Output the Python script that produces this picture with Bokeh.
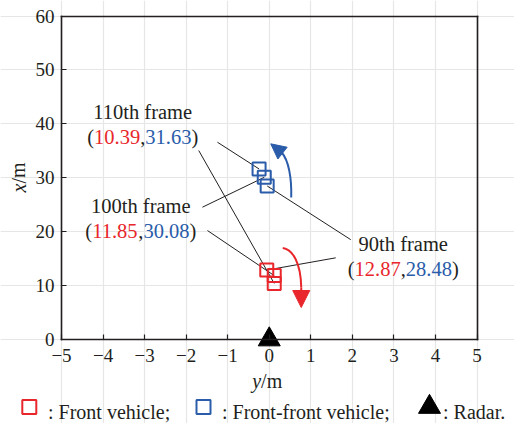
from bokeh.plotting import figure
from bokeh.models import (Range1d, Label, Arrow, NormalHead, FixedTicker, Grid,
                          LinearAxis, CustomJSTickFormatter)
from bokeh.core.properties import value
from bokeh.embed import file_html
from bokeh.resources import INLINE

# ---- data -------------------------------------------------------------
frames = [90, 100, 110]
# front vehicle: longitudinal distance x and lateral offset y (m)
front_x = [12.87, 11.85, 10.39]
front_y = [-0.06, 0.12, 0.12]
# front-front vehicle
ff_x = [28.48, 30.08, 31.63]
ff_y = [-0.05, -0.12, -0.245]
# radar position
radar_x = [0.0]
radar_y = [0.0]

y_ticks = [-5, -4, -3, -2, -1, 0, 1, 2, 3, 4, 5]
x_ticks = [0, 10, 20, 30, 40, 50, 60]
y_lim = (-5, 5)
x_lim = (0, 60)

# annotation anchors (data units) for the 90th, 100th, 110th frame labels
label_cx = [3.225, -3.09, -3.045]
title_base = [17.75, 24.67, 42.15]
value_base = [13.11, 20.21, 37.56]
# leader line start points
lead_front_y = [1.60, -1.487, -1.697]
lead_front_x = [15.15, 20.21, 35.05]
lead_ff_y = [1.961, -1.608, -1.247]
lead_ff_x = [18.52, 24.54, 36.59]

# curved motion arrows: cubic bezier (start, ctrl1, ctrl2, end) then head tip
blue_curve = dict(y0=[0.529], x0=[26.34], cy0=[0.542], cx0=[29.86],
                  cy1=[0.469], cx1=[33.20], y1=[0.301], x1=[34.68])
blue_tip = (0.036, 36.29)
red_curve = dict(y0=[0.325], x0=[16.97], cy0=[0.566], cx0=[16.69],
                 cy1=[0.758], cx1=[14.28], y1=[0.770], x1=[9.64])
red_tip = (0.770, 5.93)

# ---- canvas geometry ---------------------------------------------------
W, H = 514, 423
BOX_L, BOX_R, BOX_T, BOX_B = 61.0, 476.5, 15.5, 339.0   # data box in pixels
sx = (BOX_R - BOX_L) / (y_lim[1] - y_lim[0])
sy = (BOX_B - BOX_T) / (x_lim[1] - x_lim[0])


def px_x(px):
    return y_lim[0] + (px - BOX_L) / sx


def px_y(py):
    return x_lim[0] + (BOX_B - py) / sy


RED = "#e8262b"
BLUE = "#2a5caa"
INK = "#231f20"
FONT = "Liberation Serif"
FS = 20.5

# the frame covers the whole canvas; axes are pinned to the data box
p = figure(width=W, height=H, x_range=Range1d(px_x(0), px_x(W)),
           y_range=Range1d(px_y(H), px_y(0)), x_axis_type=None, y_axis_type=None,
           output_backend="svg", toolbar_location=None, min_border=0)
p.background_fill_color = "white"
p.border_fill_color = "white"
p.outline_line_color = None

p.add_layout(Grid(dimension=0, ticker=FixedTicker(ticks=y_ticks), bounds=x_lim,
                  grid_line_color="#e6e6e6", grid_line_width=1.2))
p.add_layout(Grid(dimension=1, ticker=FixedTicker(ticks=x_ticks), bounds=y_lim,
                  grid_line_color="#e6e6e6", grid_line_width=1.2))

minus_fmt = CustomJSTickFormatter(
    code="return tick < 0 ? '\u2212' + Math.abs(tick) : String(tick);")


def style_axis(ax):
    ax.axis_line_color = INK
    ax.axis_line_width = 1.6
    ax.axis_line_cap = "square"
    ax.major_tick_in = 5
    ax.major_tick_out = 0
    ax.major_tick_line_color = INK
    ax.major_tick_line_width = 1.2
    ax.minor_tick_in = 0
    ax.minor_tick_out = 0
    ax.major_label_text_font = FONT
    ax.major_label_text_font_size = "19px"
    ax.major_label_text_color = INK
    return ax


xaxis = style_axis(LinearAxis(fixed_location=x_lim[0], bounds=y_lim,
                              ticker=FixedTicker(ticks=y_ticks), formatter=minus_fmt,
                              major_label_standoff=9))
yaxis = style_axis(LinearAxis(fixed_location=y_lim[0], bounds=x_lim,
                              ticker=FixedTicker(ticks=x_ticks),
                              major_label_standoff=7))
top = style_axis(LinearAxis(fixed_location=x_lim[1], bounds=y_lim,
                            ticker=FixedTicker(ticks=[])))
right = style_axis(LinearAxis(fixed_location=y_lim[1], bounds=x_lim,
                              ticker=FixedTicker(ticks=[])))
p.add_layout(xaxis, "below")
p.add_layout(yaxis, "left")
p.add_layout(top, "above")
p.add_layout(right, "right")

# leader lines from the frame labels to each vehicle
p.segment(x0=lead_front_y, y0=lead_front_x, x1=front_y, y1=front_x,
          line_color=INK, line_width=1)
p.segment(x0=lead_ff_y, y0=lead_ff_x, x1=ff_y, y1=ff_x,
          line_color=INK, line_width=1)

# vehicle positions
p.scatter(front_y, front_x, marker="square", size=13, fill_color=None,
          line_color=RED, line_width=2)
p.scatter(ff_y, ff_x, marker="square", size=13, fill_color=None,
          line_color=BLUE, line_width=2)

# radar
p.scatter(radar_y, radar_x, marker="triangle", size=22, fill_color="black",
          line_color="black")

# motion arrows
p.bezier(x0="y0", y0="x0", x1="y1", y1="x1", cx0="cy0", cy0="cx0", cx1="cy1",
         cy1="cx1", source=blue_curve, line_color=BLUE, line_width=2)
p.add_layout(Arrow(end=NormalHead(size=15, fill_color=BLUE, line_color=BLUE),
                   x_start=blue_curve["y1"][0], y_start=blue_curve["x1"][0],
                   x_end=blue_tip[0], y_end=blue_tip[1],
                   line_color=BLUE, line_width=2))
p.bezier(x0="y0", y0="x0", x1="y1", y1="x1", cx0="cy0", cy0="cx0", cx1="cy1",
         cy1="cx1", source=red_curve, line_color=RED, line_width=2)
p.add_layout(Arrow(end=NormalHead(size=17, fill_color=RED, line_color=RED),
                   x_start=red_curve["y1"][0], y_start=red_curve["x1"][0],
                   x_end=red_tip[0], y_end=red_tip[1],
                   line_color=RED, line_width=2))

# frame labels: title line and coloured "(front,front-front)" line
WIDTHS = {"(": 0.333, ")": 0.333, ",": 0.25, ".": 0.25}


def text_width(s, fs):
    return sum(WIDTHS.get(c, 0.5) for c in s) * fs


p.text(x=label_cx, y=title_base, text=[f"{f}th frame" for f in frames],
       text_font=value(FONT), text_font_size=f"{FS}px", text_color=INK,
       text_align="center", text_baseline="alphabetic")

pieces_x, pieces_y, pieces_t, pieces_c, pieces_off = [], [], [], [], []
for cx, by, fx, fv in zip(label_cx, value_base, front_x, ff_x):
    parts = [("(", INK), (f"{fx:.2f}", RED), (",", INK), (f"{fv:.2f}", BLUE), (")", INK)]
    total = sum(text_width(t, FS) for t, _ in parts)
    off = -total / 2
    for t, c in parts:
        pieces_x.append(cx)
        pieces_y.append(by)
        pieces_t.append(t)
        pieces_c.append(c)
        pieces_off.append(off)
        off += text_width(t, FS)
p.text(x=pieces_x, y=pieces_y, text=pieces_t, text_color=pieces_c,
       x_offset=pieces_off, text_font=value(FONT), text_font_size=f"{FS}px",
       text_align="left", text_baseline="alphabetic")

# axis titles (italic variable, upright unit)
def axis_title(x, y, var, angle=0.0):
    p.add_layout(Label(x=x, y=y, text=var, text_font=FONT, text_font_size="20px",
                       text_font_style="italic", text_align="right", angle=angle,
                       text_baseline="middle", text_color=INK))
    p.add_layout(Label(x=x, y=y, text="/m", text_font=FONT, text_font_size="20px",
                       text_align="left", angle=angle, text_baseline="middle",
                       text_color=INK))


axis_title(px_x(260.6), px_y(380.0), "y")
axis_title(px_x(18.0), px_y(183.0), "x", angle=1.5708)

# ---- legend row under the axes --------------------------------------------
leg_y = px_y(406.5)
leg_base = px_y(411.5)
leg_marker_x = [px_x(28.8), px_x(203.0), px_x(429.0)]
leg_text_x = [px_x(47.5), px_x(221.5), px_x(442.5)]
leg_texts = [": Front vehicle;", ": Front-front vehicle;", ": Radar."]
p.scatter([leg_marker_x[0]], [leg_y], marker="square", size=14, fill_color=None,
          line_color=RED, line_width=2)
p.scatter([leg_marker_x[1]], [leg_y], marker="square", size=14, fill_color=None,
          line_color=BLUE, line_width=2)
p.scatter([leg_marker_x[2]], [leg_y], marker="triangle", size=22,
          fill_color="black", line_color="black")
p.text(x=leg_text_x, y=[leg_base] * 3, text=leg_texts, text_font=value(FONT),
       text_font_size="20px", text_color=INK, text_align="left",
       text_baseline="alphabetic")

open("out.html", "w").write(file_html(p, INLINE))
